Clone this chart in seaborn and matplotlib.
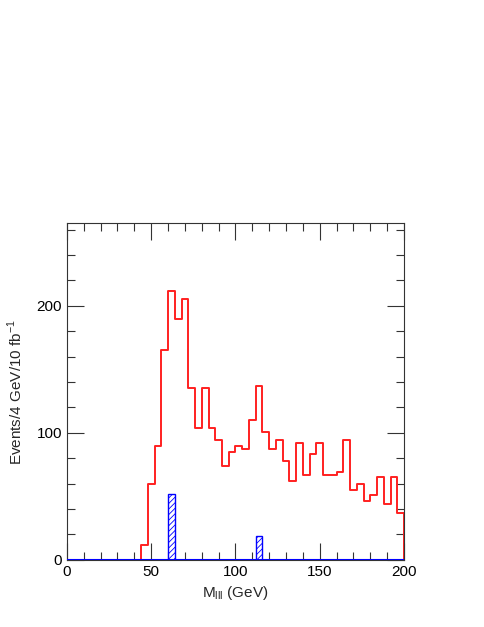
import matplotlib
matplotlib.use("Agg")
import matplotlib.pyplot as plt
import seaborn as sns
import numpy as np
import pandas as pd
from matplotlib.ticker import MultipleLocator

sns.set_style("ticks")
plt.rcParams['font.family'] = ['Liberation Sans', 'DejaVu Sans']
plt.rcParams['hatch.color'] = 'blue'
plt.rcParams['hatch.linewidth'] = 0.6

# Red histogram: 4 GeV bins starting at 40 GeV (first and last bins empty)
red_lo = 40
bin_width = 4
red_counts = [0, 12, 60, 90, 165, 212, 190, 205, 135, 104, 135, 104, 94, 74, 85,
              90, 87, 110, 137, 101, 87, 94, 78, 62, 92, 67, 83, 92, 67, 67,
              69, 94, 55, 60, 46, 51, 65, 44, 65, 37, 0]
# Blue hatched histogram
blue_centers = [62, 114]
blue_counts = [52, 19]

red_edges = [float(v) for v in red_lo + bin_width * np.arange(len(red_counts) + 1)]
red_df = pd.DataFrame({"m": np.array(red_edges[:-1]) + bin_width / 2, "w": red_counts})
blue_df = pd.DataFrame({"m": blue_centers, "w": blue_counts})
blue_edges = [float(v) for v in np.arange(0, 201, bin_width)]

fig = plt.figure(figsize=(4.85, 6.27), dpi=100)
ax = fig.add_axes([0.138, 0.107, 0.695, 0.537])

sns.histplot(data=red_df, x="m", weights="w", bins=red_edges, element='step',
             fill=False, color='#ff2020', linewidth=1.4, ax=ax)
sns.histplot(data=blue_df, x="m", weights="w", bins=blue_edges,
             element='bars', fill=True, facecolor='white', edgecolor='blue',
             hatch='//////', linewidth=1.0, alpha=1, ax=ax)
ax.axhline(0, color='blue', linewidth=1.5, zorder=5)

ax.set_xlim(0, 200)
ax.set_ylim(0, 265)
ax.xaxis.set_major_locator(MultipleLocator(50))
ax.xaxis.set_minor_locator(MultipleLocator(10))
ax.yaxis.set_major_locator(MultipleLocator(100))
ax.yaxis.set_minor_locator(MultipleLocator(20))
ax.tick_params(which='both', direction='in', top=True, right=True, width=0.8,
               colors='#333333', labelcolor='black', labelsize=11)
ax.tick_params(which='major', length=12)
ax.tick_params(which='minor', length=6)
for s in ax.spines.values():
    s.set_linewidth(0.8)
    s.set_color('#333333')

ax.set_xlabel(r'M$_{\mathregular{lll}}$ (GeV)', fontsize=11)
ax.set_ylabel(r'Events/4 GeV/10 fb$^{\mathregular{-1}}$', fontsize=11, labelpad=8)

fig.savefig("out.png", dpi=100)
